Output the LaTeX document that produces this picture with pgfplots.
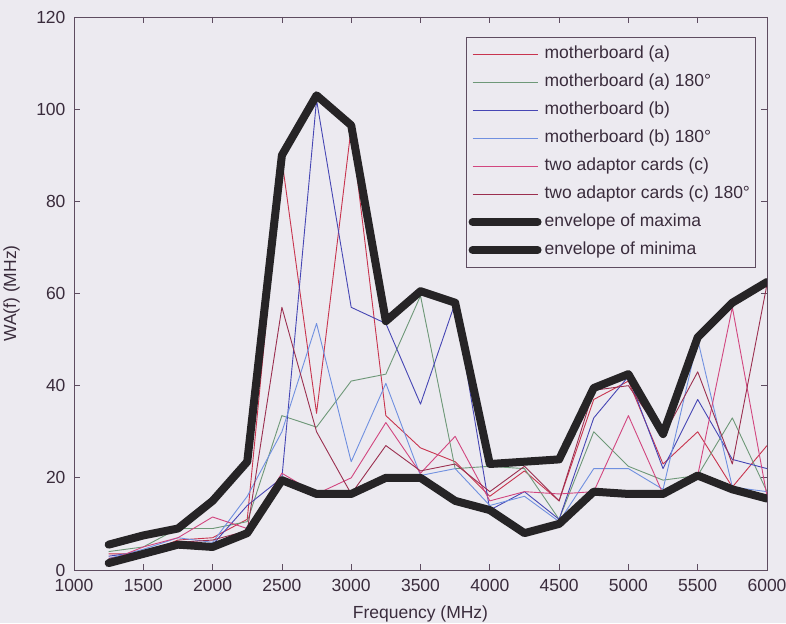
\documentclass[border=0pt]{standalone}
\usepackage{fontspec}
\setmainfont{Liberation Sans}
\usepackage{pgfplots}
\usepackage{pgfplotstable}
\pgfplotsset{compat=1.18}
\definecolor{bgcol}{HTML}{ECEAF0}
\definecolor{axcol}{HTML}{5E4C60}
\definecolor{txtcol}{HTML}{3A2C3C}
\definecolor{ca}{HTML}{C8344E}
\definecolor{cag}{HTML}{6E9878}
\definecolor{cb}{HTML}{4646B4}
\definecolor{cbl}{HTML}{7090E0}
\definecolor{cc}{HTML}{D2467F}
\definecolor{ccm}{HTML}{9B2F4F}
\definecolor{env}{HTML}{262426}
\pgfplotstableread{
f     a     ag    b     bl    c     cm    mx    mn
1250  3.5   4     3     2.5   2     2.5   5.5   1.5
1500  3.5   5     4     4.5   5     3.5   7.5   3.5
1750  6.5   9     6     7     7     6     9     5.5
2000  7     9     5.5   6     11.5  6.5   15    5
2250  11    10.5  14    16    9     8.5   23.5  8
2500  89    33.5  20    30    21    57    90    19.5
2750  34    31    102   53.5  16.5  30    103   16.5
3000  96    41    57    23.5  20    16.5  96.5  16.5
3250  33.5  42.5  53.5  40.5  32    27    54    20
3500  26.5  59.5  36    20.5  21    21.5  60.5  20
3750  23.5  22    58    22    29    23    58    15
4000  16    22.5  13    14    15    17    23    13
4250  21.5  22    17    16    17    22.5  23.5  8
4500  15    11    11    10.5  16.5  15    24    10
4750  37    30    33    22    17    39    39.5  17
5000  41    22.5  42    22    33.5  40    42.5  16.5
5250  23    19.5  22    17.5  16.5  29    29.5  16.5
5500  30    20.5  37    50    20.5  43    50.5  20.5
5750  18    33    24    18    57    23    58    17.5
6000  27    17    22    17    16    62    62.5  15.5
}\data
\begin{document}
\begin{tikzpicture}[x=1pt,y=1pt]
\useasboundingbox (0,0) rectangle (786,623);
\fill[bgcol] (0,0) rectangle (786,623);
\begin{axis}[
  at={(74pt,53pt)}, anchor=south west,
  scale only axis, width=693pt, height=553pt,
  xmin=1000, xmax=6000, ymin=0, ymax=120,
  xtick={1000,1500,...,6000}, ytick={0,20,...,120},
  /pgf/number format/assume math mode=true,
  /pgf/number format/set thousands separator={},
  tick align=inside, major tick length=6pt,
  axis line style={axcol, line width=0.8pt},
  tick style={axcol, line width=0.8pt},
  ticklabel style={font=\fontsize{17.5}{20}\selectfont, text=txtcol},
  yticklabel style={xshift=-5pt},
  xticklabel style={yshift=-6pt},
  label style={font=\fontsize{17.5}{20}\selectfont, text=txtcol},
  xlabel={Frequency (MHz)},
  ylabel={WA(f) (MHz)},
  xlabel style={at={(0.5,-0.059)}, anchor=north},
  ylabel style={at={(-0.09,0.5)}, anchor=center},
  legend style={at={(0.983,0.9638)}, anchor=north east, draw=axcol, fill=bgcol,
    font=\fontsize{17.5}{20}\selectfont, text=txtcol, row sep=4.5pt,
    inner xsep=2pt, inner ysep=5pt,
    nodes={inner sep=3pt, text height=13pt, text depth=4.5pt}},
  legend cell align=left,
  legend image code/.code={\draw[#1] (7pt,0pt) -- (72pt,0pt);},
  no markers,
  every axis plot/.append style={line width=0.9pt, line join=round},
]
\addplot[ca] table[x=f,y=a] {\data};
\addlegendentry{motherboard (a)}
\addplot[cag] table[x=f,y=ag] {\data};
\addlegendentry{motherboard (a) 180°}
\addplot[cb] table[x=f,y=b] {\data};
\addlegendentry{motherboard (b)}
\addplot[cbl] table[x=f,y=bl] {\data};
\addlegendentry{motherboard (b) 180°}
\addplot[cc] table[x=f,y=c] {\data};
\addlegendentry{two adaptor cards (c)}
\addplot[ccm] table[x=f,y=cm] {\data};
\addlegendentry{two adaptor cards (c) 180°}
\addplot[env, line width=8pt, line cap=round] table[x=f,y=mx] {\data};
\addlegendentry{envelope of maxima}
\addplot[env, line width=8pt, line cap=round] table[x=f,y=mn] {\data};
\addlegendentry{envelope of minima}
\end{axis}
\end{tikzpicture}
\end{document}
